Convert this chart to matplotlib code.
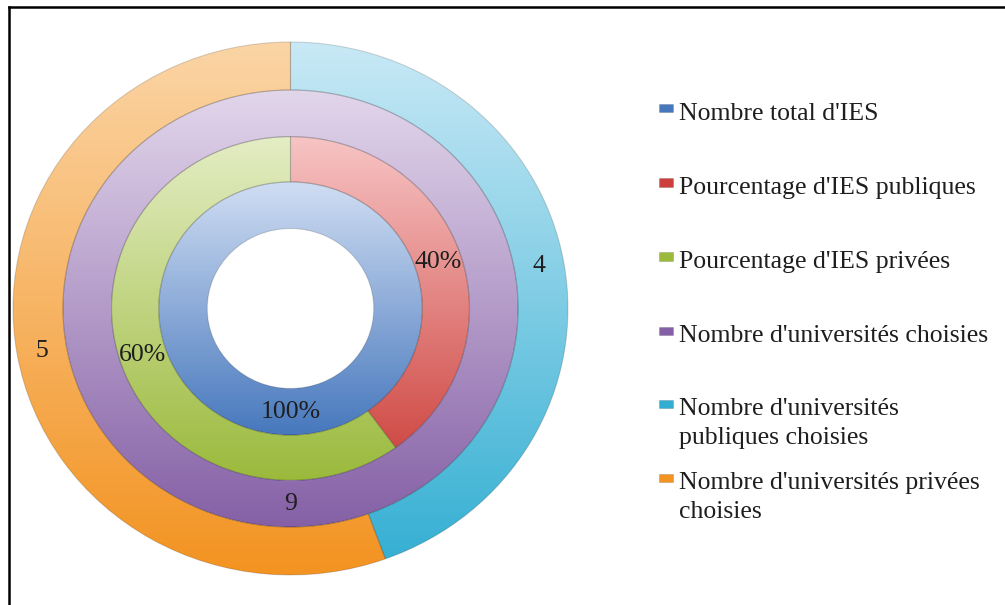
import numpy as np
import matplotlib
matplotlib.use('Agg')
import matplotlib.pyplot as plt
from matplotlib.colors import LinearSegmentedColormap
from matplotlib.patches import Rectangle
from matplotlib.lines import Line2D

# data, inner ring to outer ring
total_ies = [100]
pct_ies = [40, 60]          # publiques, privées
univ_total = [9]
univ_split = [4, 5]         # publiques, privées

legend_labels = [
    "Nombre total d'IES",
    "Pourcentage d'IES publiques",
    "Pourcentage d'IES privées",
    "Nombre d'universités choisies",
    "Nombre d'universités\npubliques choisies",
    "Nombre d'universités privées\nchoisies",
]

# (light top, dark bottom) per series
blue = ('#d0def3', '#4778bd')
red = ('#f7c4c4', '#cc3f3a')
green = ('#e4edc4', '#9bba3c')
purple = ('#e2d6eb', '#8560a6')
aqua = ('#c9e9f6', '#31aed2')
orange = ('#fbd5a6', '#f39321')

rings = [
    (total_ies, '{}%', 0.475, 0.30, [blue]),
    (pct_ies, '{}%', 0.645, 0.475, [red, green]),
    (univ_total, '{}', 0.82, 0.645, [purple]),
    (univ_split, '{}', 1.0, 0.82, [aqua, orange]),
]

plt.rcParams['font.family'] = ['Liberation Serif', 'DejaVu Serif']
text_color = '#1e1e1e'
fs = 18.5

fig = plt.figure(figsize=(10.05, 6.05), dpi=100)
ax = fig.add_axes([13 / 1005, 30 / 605, 555 / 1005, 533 / 605])

grad = np.linspace(0, 1, 256).reshape(-1, 1)
for vals, fmt, r_out, r_in, cols in rings:
    wedges, _ = ax.pie(vals, radius=r_out, startangle=90, counterclock=False,
                       wedgeprops=dict(width=r_out - r_in, facecolor='none',
                                       edgecolor='#00000026', linewidth=0.8))
    for w, v, (light, dark) in zip(wedges, vals, cols):
        cmap = LinearSegmentedColormap.from_list('g', [light, dark])
        im = ax.imshow(grad, extent=(-r_out, r_out, -r_out, r_out), cmap=cmap,
                       aspect='auto', zorder=1, interpolation='bilinear')
        im.set_clip_path(w)
        w.set_zorder(2)
        mid = np.deg2rad((w.theta1 + w.theta2) / 2)
        r_mid = (r_out + r_in) / 2
        ax.text(r_mid * np.cos(mid), r_mid * np.sin(mid), fmt.format(v),
                ha='center', va='center', fontsize=fs, color=text_color, zorder=3)

ax.set_aspect('auto')
ax.set_xlim(-1, 1)
ax.set_ylim(-1, 1)
ax.axis('off')

# legend, baseline of first line in pixels from top
baselines = [120, 194, 268, 342, 415, 489]
line_h = 29
for lab, yb, (light, dark) in zip(legend_labels, baselines, [blue, red, green, purple, aqua, orange]):
    fig.add_artist(Rectangle((659 / 1005, 1 - (yb - 7.5) / 605), 14 / 1005, 8 / 605,
                             transform=fig.transFigure, facecolor=dark,
                             edgecolor='#00000030', linewidth=0.5))
    y_last = yb + line_h * lab.count('\n')
    fig.text(679 / 1005, 1 - y_last / 605, lab, ha='left', va='baseline',
             fontsize=fs, color=text_color, linespacing=1.4)

# frame (left and top edges only visible)
fig.add_artist(Line2D([8.5 / 1005, 8.5 / 1005], [0, 1 - 7 / 605],
                      transform=fig.transFigure, color='black', lw=1.8))
fig.add_artist(Line2D([8.5 / 1005, 1], [1 - 7 / 605, 1 - 7 / 605],
                      transform=fig.transFigure, color='black', lw=1.8))

fig.savefig('out.png', dpi=100)
